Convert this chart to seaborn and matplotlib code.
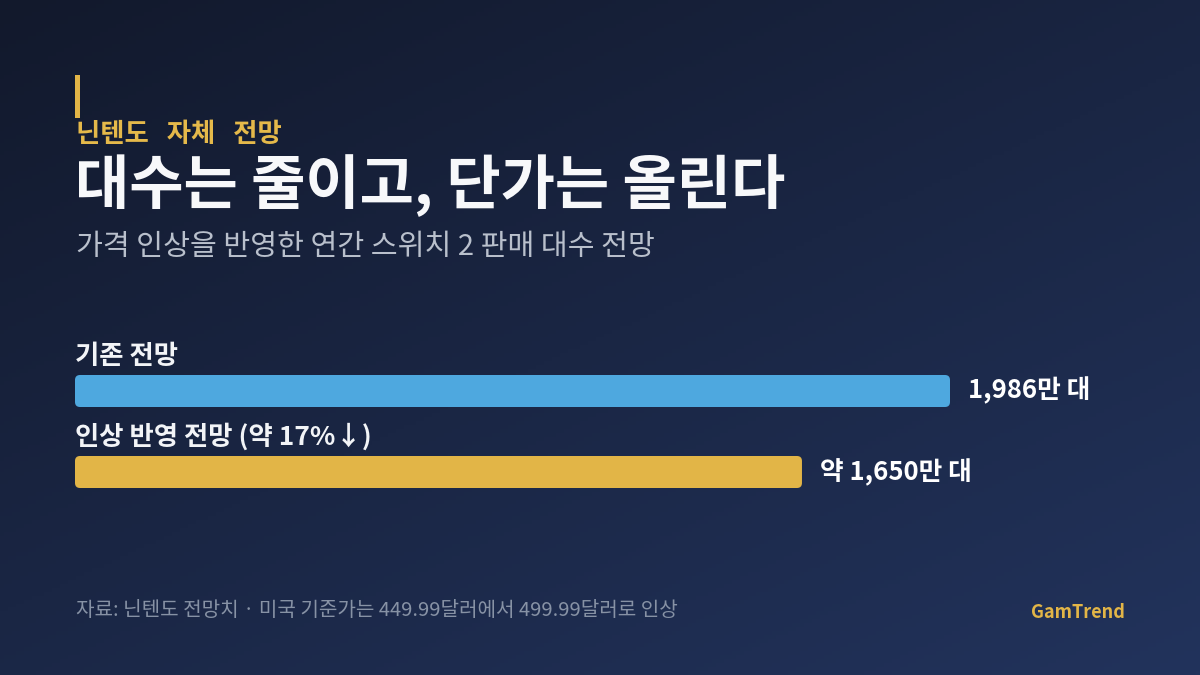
import numpy as np
import pandas as pd
import matplotlib
matplotlib.use("Agg")
import matplotlib.pyplot as plt
import seaborn as sns
from matplotlib.patches import FancyBboxPatch, Rectangle

# data
categories = ["기존 전망", "인상 반영 전망 (약 17%↓)"]
units = [1986, 1650]  # 만 대
value_labels = ["1,986만 대", "약 1,650만 대"]
bar_colors = ["#4EA8DF", "#E2B547"]

kicker = "닌텐도   자체   전망"
title = "대수는 줄이고, 단가는 올린다"
subtitle = "가격 인상을 반영한 연간 스위치 2 판매 대수 전망"
source = "자료: 닌텐도 전망치 · 미국 기준가는 449.99달러에서 499.99달러로 인상"
brand = "GamTrend"

sns.set_theme(style="white")
plt.rcParams["font.family"] = ["Noto Sans CJK KR", "DejaVu Sans"]

W, H = 1200, 675
fig = plt.figure(figsize=(12, 6.75), dpi=100)

# background gradient
bg = fig.add_axes([0, 0, 1, 1])
gx, gy = np.meshgrid(np.linspace(0, 1, 300), np.linspace(0, 1, 170))
t = (gx * 0.45 + gy * 0.55)
c0 = np.array([0x12, 0x19, 0x2C]) / 255
c1 = np.array([0x22, 0x33, 0x5C]) / 255
img = c0[None, None, :] * (1 - t[..., None]) + c1[None, None, :] * t[..., None]
bg.imshow(img, extent=[0, 1, 0, 1], aspect="auto", origin="upper")
bg.set_xlim(0, 1)
bg.set_ylim(0, 1)
bg.axis("off")

def px(x, y):
    return x / W, 1 - y / H

# accent + headings
bg.add_patch(Rectangle((75 / W, 1 - 118 / H), 5 / W, 43 / H, color="#E2B547", lw=0))
bg.text(*px(76, 134), kicker, color="#E5B94A", fontsize=19, fontweight="bold", va="center", ha="left")
bg.text(*px(75, 186), title, color="#F7F8FA", fontsize=42.5, fontweight="bold", va="center", ha="left")
bg.text(*px(76, 247), subtitle, color="#B9C0CC", fontsize=21, va="center", ha="left")
bg.text(*px(76, 611), source, color="#8792A5", fontsize=14.5, va="center", ha="left")
bg.text(*px(1125, 612), brand, color="#E2B547", fontsize=13, fontweight="bold", va="center", ha="right")

# bar axes: x 75..1125 px, y centers at 391 and 472 px
ax_top, ax_bot = 391 - 40.5, 472 + 40.5
ax = fig.add_axes([75 / W, 1 - ax_bot / H, 1050 / W, (ax_bot - ax_top) / H])
ax.patch.set_alpha(0)
df = pd.DataFrame({"category": categories, "units": units})
sns.barplot(data=df, x="units", y="category", hue="category", palette=bar_colors,
            saturation=1, orient="h", width=32 / 81, legend=False, ax=ax)
xmax = units[0] * 1050 / 875
ax.set_xlim(0, xmax)
ax.set_ylim(1.5, -0.5)

# swap rectangles for rounded ones
x_per_px = xmax / 1050
y_per_px = 1 / 81
for p in list(ax.patches):
    x0, y0, w, h = p.get_x(), p.get_y(), p.get_width(), p.get_height()
    fc = p.get_facecolor()
    p.remove()
    ax.add_patch(FancyBboxPatch((x0, y0), w, h,
                                boxstyle=f"round,pad=0,rounding_size={5 * x_per_px}",
                                mutation_aspect=y_per_px / x_per_px,
                                facecolor=fc, edgecolor="none"))

for i, (cat, val, lab) in enumerate(zip(categories, units, value_labels)):
    ax.text(0, i - 35 * y_per_px, cat, color="#F2F4F7", fontsize=19, fontweight="bold",
            va="center", ha="left")
    ax.text(val + 18 * x_per_px, i, lab, color="#FFFFFF", fontsize=18.5, fontweight="bold",
            va="center", ha="left")

ax.set_xlabel("")
ax.set_ylabel("")
ax.set_xticks([])
ax.set_yticks([])
sns.despine(ax=ax, left=True, bottom=True)
for s in ax.spines.values():
    s.set_visible(False)

fig.savefig("out.png", dpi=100)
